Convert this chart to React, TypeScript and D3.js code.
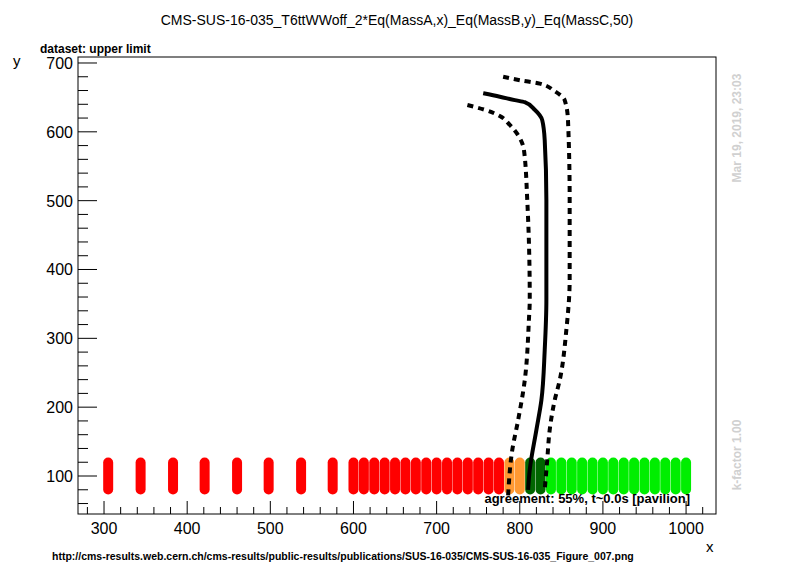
import * as d3 from "d3";

const pointsX = [305, 344, 383, 421, 460, 498, 537, 575,
  600, 612.5, 625, 637.5, 650, 662.5, 675, 687.5, 700, 712.5, 725, 737.5, 750, 762.5, 775,
  787.5, 800, 812.5, 825,
  837.5, 850, 862.5, 875, 887.5, 900, 912.5, 925, 937.5, 950, 962.5, 975, 987.5, 1000];
const pointsColor = [
  ...Array(23).fill("#ff0000"),
  "#ff9933", "#ff9933", "#006600", "#006600",
  ...Array(14).fill("#00ee00"),
];
const solidCurve: [number, number][] = [
  [756, 656], [776, 651], [794, 646], [806, 643], [818, 632], [827, 617], [830, 588],
  [832, 501], [832, 356], [830, 283], [826, 210], [820, 167], [812, 109], [810, 80],
];
const innerCurve: [number, number][] = [
  [737, 639], [758, 632], [776, 623], [788, 610], [798, 595], [805, 574], [809, 501],
  [812, 356], [811, 327], [806, 239], [798, 181], [791, 138], [786, 72],
];
const outerCurve: [number, number][] = [
  [780, 680], [800, 675], [824, 670], [842, 659], [854, 646], [858, 617], [860, 501],
  [860, 385], [856, 312], [848, 239], [842, 210], [836, 167], [833, 123], [830, 80],
];

const L = 78, R = 716, T = 57, B = 514;

export default function App() {
  const x = d3.scaleLinear().domain([268.7, 1036]).range([L, R]);
  const y = d3.scaleLinear().domain([44.8, 708.7]).range([B, T]);
  const line = d3.line<[number, number]>().x((d) => x(d[0])).y((d) => y(d[1])).curve(d3.curveMonotoneY);
  const xMajor = d3.range(300, 1001, 100);
  const xMinor = d3.range(280, 1036, 20).filter((v) => v % 100 !== 0);
  const yMajor = d3.range(100, 701, 100);
  const yMinor = d3.range(60, 709, 20).filter((v) => v % 100 !== 0);
  const font = "Liberation Sans, Arial, sans-serif";
  return (
    <svg width={796} height={572} style={{ position: "absolute", left: 0, top: 0 }} fontFamily={font}>
      <rect width={796} height={572} fill="white" />
      <text x={397} y={25} textAnchor="middle" fontSize={14}>
        CMS-SUS-16-035_T6ttWWoff_2*Eq(MassA,x)_Eq(MassB,y)_Eq(MassC,50)
      </text>
      <text x={40} y={53} fontSize={12} fontWeight="bold">dataset: upper limit</text>
      <text x={13} y={66} fontSize={15}>y</text>
      <text x={706} y={552} fontSize={15}>x</text>
      <text x={52} y={560} fontSize={10.5} fontWeight="bold">
        http://cms-results.web.cern.ch/cms-results/public-results/publications/SUS-16-035/CMS-SUS-16-035_Figure_007.png
      </text>
      <text transform="translate(741,128) rotate(-90)" textAnchor="middle" fontSize={12} fontWeight="bold" fill="#d0d0d0">
        Mar 19, 2019, 23:03
      </text>
      <text transform="translate(741,455) rotate(-90)" textAnchor="middle" fontSize={12} fontWeight="bold" fill="#d0d0d0">
        k-factor 1.00
      </text>
      {pointsX.map((v, i) => (
        <rect key={i} x={x(v) - 5} y={y(127)} width={10} height={y(73) - y(127)} rx={5} fill={pointsColor[i]} />
      ))}
      <path d={line(innerCurve)!} fill="none" stroke="black" strokeWidth={4} strokeDasharray="6 5" />
      <path d={line(outerCurve)!} fill="none" stroke="black" strokeWidth={4} strokeDasharray="6 5" />
      <path d={line(solidCurve)!} fill="none" stroke="black" strokeWidth={4} />
      <text x={690} y={503} textAnchor="end" fontSize={13} fontWeight="bold">
        agreement: 55%, t~0.0s [pavilion]
      </text>
      <rect x={L} y={T} width={R - L} height={B - T} fill="none" stroke="black" />
      {xMajor.map((v) => (
        <g key={v}>
          <line x1={x(v)} x2={x(v)} y1={B} y2={B - 13} stroke="black" />
          <text x={x(v)} y={B + 20} textAnchor="middle" fontSize={16}>{v}</text>
        </g>
      ))}
      {xMinor.map((v) => <line key={v} x1={x(v)} x2={x(v)} y1={B} y2={B - 7} stroke="black" />)}
      {yMajor.map((v) => (
        <g key={v}>
          <line x1={L} x2={L + 19} y1={y(v)} y2={y(v)} stroke="black" />
          <text x={L - 5} y={y(v) + 6} textAnchor="end" fontSize={16}>{v}</text>
        </g>
      ))}
      {yMinor.map((v) => <line key={v} x1={L} x2={L + 10} y1={y(v)} y2={y(v)} stroke="black" />)}
    </svg>
  );
}
